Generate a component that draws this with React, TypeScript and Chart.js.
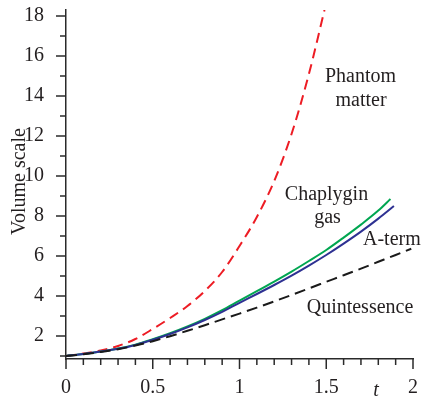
import { useEffect, useRef } from 'react';
import { Chart, registerables } from 'chart.js';

Chart.register(...registerables);

// ---- data ----
const phantomT = [0, 0.1, 0.2, 0.3, 0.4, 0.5, 0.6, 0.7, 0.8, 0.9, 1.0, 1.1, 1.2, 1.3, 1.4, 1.49];
const phantomV = [1.0, 1.12, 1.27, 1.5, 1.85, 2.35, 2.9, 3.5, 4.25, 5.2, 6.5, 7.95, 9.75, 12.1, 15.1, 18.3];

const chaplyginT = [0, 0.1, 0.2, 0.3, 0.4, 0.5, 0.6, 0.7, 0.8, 0.9, 1.0, 1.1, 1.2, 1.3, 1.4, 1.5, 1.6, 1.7, 1.8, 1.87];
const chaplyginV = [1.0, 1.1, 1.22, 1.37, 1.57, 1.84, 2.14, 2.48, 2.86, 3.29, 3.77, 4.24, 4.72, 5.22, 5.75, 6.3, 6.92, 7.57, 8.27, 8.85];

const aTermT = [0, 0.1, 0.2, 0.3, 0.4, 0.5, 0.6, 0.7, 0.8, 0.9, 1.0, 1.1, 1.2, 1.3, 1.4, 1.5, 1.6, 1.7, 1.8, 1.89];
const aTermV = [1.0, 1.1, 1.22, 1.36, 1.55, 1.81, 2.1, 2.43, 2.8, 3.21, 3.66, 4.1, 4.55, 5.02, 5.52, 6.05, 6.62, 7.22, 7.87, 8.5];

const quintT = [0, 0.1, 0.2, 0.3, 0.4, 0.5, 0.6, 0.7, 0.8, 0.9, 1.0, 1.1, 1.2, 1.3, 1.4, 1.5, 1.6, 1.7, 1.8, 1.9, 1.99];
const quintV = [1.0, 1.09, 1.2, 1.34, 1.52, 1.74, 1.99, 2.26, 2.54, 2.83, 3.12, 3.42, 3.73, 4.05, 4.38, 4.71, 5.04, 5.37, 5.71, 6.05, 6.36];

// ---- axis ticks ----
const xTicks = [0, 0.1, 0.2, 0.3, 0.4, 0.5, 0.6, 0.7, 0.8, 0.9, 1, 1.1, 1.2, 1.3, 1.4, 1.5, 1.6, 1.7, 1.8, 1.9, 2];
const xLabeled = [0, 0.5, 1, 1.5, 2];
const yTicks = [1, 2, 3, 4, 5, 6, 7, 8, 9, 10, 11, 12, 13, 14, 15, 16, 17, 18];
const yLabeled = [2, 4, 6, 8, 10, 12, 14, 16, 18];

const FONT = "'Liberation Serif', 'Times New Roman', serif";
const AXIS = '#2a2a2a';
const TEXT = '#231f20';

const isIn = (arr: number[], v: number) => arr.some((a) => Math.abs(a - v) < 1e-6);

const decorPlugin = {
  id: 'decor',
  afterDraw(chart: any) {
    const ctx = chart.ctx as CanvasRenderingContext2D;
    const xs = chart.scales.x;
    const ys = chart.scales.y;
    const area = chart.chartArea;
    ctx.save();
    ctx.strokeStyle = AXIS;
    ctx.lineWidth = 1.5;
    // x ticks (outward, below axis)
    for (const v of xTicks) {
      const px = xs.getPixelForValue(v);
      const len = isIn(xLabeled, v) ? 10 : 6;
      ctx.beginPath();
      ctx.moveTo(px, area.bottom);
      ctx.lineTo(px, area.bottom + len);
      ctx.stroke();
    }
    // y ticks (outward, left of axis)
    for (const v of yTicks) {
      const py = ys.getPixelForValue(v);
      const len = isIn(yLabeled, v) ? 10 : 6;
      ctx.beginPath();
      ctx.moveTo(area.left, py);
      ctx.lineTo(area.left - len, py);
      ctx.stroke();
    }
    ctx.fillStyle = TEXT;
    // axis titles
    ctx.font = `italic 20px ${FONT}`;
    ctx.textAlign = 'center';
    ctx.textBaseline = 'alphabetic';
    ctx.fillText('t', 376, 396);
    ctx.save();
    ctx.translate(25, 181.5);
    ctx.rotate(-Math.PI / 2);
    ctx.font = `20px ${FONT}`;
    ctx.fillText('Volume scale', 0, 0);
    ctx.restore();
    // curve annotations
    ctx.font = `20px ${FONT}`;
    ctx.textAlign = 'center';
    ctx.fillText('Phantom', 360.5, 82);
    ctx.fillText('matter', 361, 106);
    ctx.fillText('Chaplygin', 326.5, 200);
    ctx.fillText('gas', 327.5, 223);
    ctx.textAlign = 'left';
    ctx.fillText('A-term', 363, 245);
    ctx.textAlign = 'center';
    ctx.fillText('Quintessence', 360, 313);
    ctx.restore();
  },
};

export default function App() {
  const ref = useRef<HTMLCanvasElement>(null);
  useEffect(() => {
    const mk = (t: number[], v: number[]) => t.map((x, i) => ({ x, y: v[i] }));
    const base = { pointRadius: 0, borderWidth: 2, cubicInterpolationMode: 'monotone' as const, fill: false };
    const chart = new Chart(ref.current!, {
      type: 'line',
      data: {
        datasets: [
          { ...base, label: 'Quintessence', data: mk(quintT, quintV), borderColor: '#1a1a1a', borderDash: [11, 6] },
          { ...base, label: 'A-term', data: mk(aTermT, aTermV), borderColor: '#2e3192' },
          { ...base, label: 'Chaplygin gas', data: mk(chaplyginT, chaplyginV), borderColor: '#00a651' },
          { ...base, label: 'Phantom matter', data: mk(phantomT, phantomV), borderColor: '#ed1c24', borderDash: [10, 6] },
        ],
      },
      options: {
        responsive: false,
        animation: false,
        devicePixelRatio: 1,
        layout: { padding: { left: 0, top: 10, right: 12, bottom: 0 } },
        plugins: { legend: { display: false }, tooltip: { enabled: false } },
        scales: {
          x: {
            type: 'linear',
            min: 0,
            max: 2,
            afterBuildTicks: (s: any) => {
              s.ticks = xTicks.map((v) => ({ value: v }));
            },
            afterFit: (s: any) => {
              s.height = 39;
              s.paddingLeft = 0;
              s.paddingRight = 0;
            },
            grid: { display: false },
            border: { display: true, color: AXIS, width: 1.5 },
            ticks: {
              autoSkip: false,
              maxRotation: 0,
              padding: 9,
              color: TEXT,
              font: { family: FONT, size: 20 },
              callback: (v: any) => (isIn(xLabeled, Number(v)) ? String(Number(v)) : ''),
            },
          },
          y: {
            type: 'linear',
            min: 0.85,
            max: 18.3,
            afterBuildTicks: (s: any) => {
              s.ticks = yTicks.map((v) => ({ value: v }));
            },
            afterFit: (s: any) => {
              s.width = 66;
              s.paddingTop = 0;
              s.paddingBottom = 0;
            },
            grid: { display: false },
            border: { display: true, color: AXIS, width: 1.5 },
            ticks: {
              autoSkip: false,
              padding: 14,
              color: TEXT,
              font: { family: FONT, size: 20 },
              callback: (v: any) => (isIn(yLabeled, Number(v)) ? String(Number(v)) : ''),
            },
          },
        },
      },
      plugins: [decorPlugin],
    });
    return () => chart.destroy();
  }, []);
  return (
    <div style={{ position: 'fixed', left: 0, top: 0, width: 425, height: 398, background: '#fff' }}>
      <canvas ref={ref} width={425} height={398} style={{ display: 'block' }} />
    </div>
  );
}
